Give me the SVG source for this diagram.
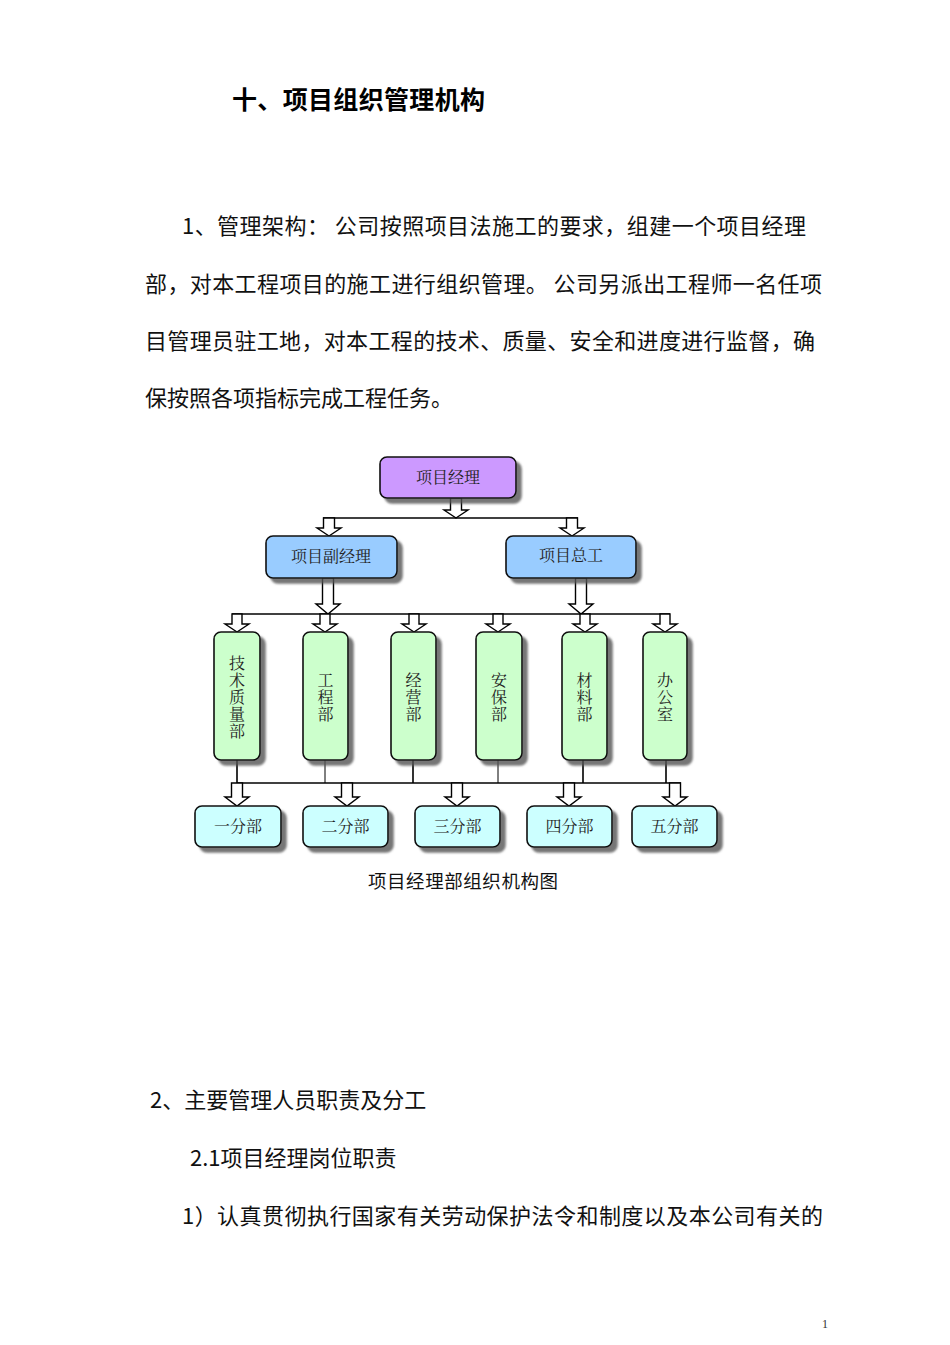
<svg xmlns="http://www.w3.org/2000/svg" width="950" height="1345" viewBox="0 0 950 1345">
<style>
.body{font-family:"Noto Sans CJK SC","Liberation Sans",sans-serif;font-size:22px;fill:#111}
.title{font-family:"Noto Sans CJK SC","Liberation Sans",sans-serif;font-size:25px;font-weight:bold;fill:#000}
.cap{font-family:"Noto Sans CJK SC","Liberation Sans",sans-serif;font-size:18.5px;fill:#111}
.nt{font-family:"Noto Serif CJK SC","Noto Sans CJK SC",serif;font-size:16px;fill:#222;text-anchor:middle}
.vt{font-family:"Noto Serif CJK SC","Noto Sans CJK SC",serif;font-size:16px;fill:#222;text-anchor:middle;writing-mode:vertical-rl;text-orientation:upright;letter-spacing:1px}
.box{stroke:#111;stroke-width:1.6;filter:url(#sh)}
.p{fill:#CC99FF}.b{fill:#99CCFF}.g{fill:#CCFFCC}.c{fill:#CCFFFF}
.ln{stroke:#000;stroke-width:1.6;fill:none}
.thin{stroke:#000;stroke-width:1;fill:none}
.ar{fill:#fff;stroke:#000;stroke-width:1.4;stroke-linejoin:miter}
</style>
<defs>
<filter id="sh" x="-20%" y="-20%" width="160%" height="160%">
<feDropShadow dx="5" dy="5" stdDeviation="1.2" flood-color="#555" flood-opacity="0.8"/>
</filter>
</defs>
<rect width="950" height="1345" fill="#fff"/>
<text class="title" x="232" y="109" textLength="253">十、项目组织管理机构</text>
<text class="body" x="182" y="234" textLength="624">1、管理架构： 公司按照项目法施工的要求，组建一个项目经理</text>
<text class="body" x="145" y="292" textLength="677">部，对本工程项目的施工进行组织管理。 公司另派出工程师一名任项</text>
<text class="body" x="145" y="349" textLength="670">目管理员驻工地，对本工程的技术、质量、安全和进度进行监督，确</text>
<text class="body" x="145" y="406">保按照各项指标完成工程任务。</text>

<g id="connectors">
<path class="ln" d="M323,518 H578"/>
<path class="ln" d="M232,614 H670"/>
<path class="ln" d="M237,783 H681"/>
<path class="ln" d="M237,760 V783 M413,760 V783 M583,760 V783 M666,760 V783"/>
<path class="thin" d="M325,760 V783 M498,760 V783"/>
<path class="ar" d="M450.5,498 H461.5 V510 H468 L456,518 L444,510 H450.5 Z"/>
<path class="ar" d="M323.5,518 H334.5 V528 H341 L329,536 L317,528 H323.5 Z"/>
<path class="ar" d="M566.5,518 H577.5 V528 H584 L572,536 L560,528 H566.5 Z"/>
<path class="ar" d="M322.5,578 H333.5 V604 H340 L328,614 L316,604 H322.5 Z"/>
<path class="ar" d="M575.5,578 H586.5 V604 H593 L581,614 L569,604 H575.5 Z"/>
<path class="ar" d="M232,614 H242 V624 H249 L237,632 L225,624 H232 Z"/>
<path class="ar" d="M320,614 H330 V624 H337 L325,632 L313,624 H320 Z"/>
<path class="ar" d="M409,614 H419 V624 H426 L414,632 L402,624 H409 Z"/>
<path class="ar" d="M493,614 H503 V624 H510 L498,632 L486,624 H493 Z"/>
<path class="ar" d="M580,614 H590 V624 H597 L585,632 L573,624 H580 Z"/>
<path class="ar" d="M660,614 H670 V624 H677 L665,632 L653,624 H660 Z"/>
<path class="ar" d="M231.5,783 H242.5 V797 H249 L237,806 L225,797 H231.5 Z"/>
<path class="ar" d="M341.5,783 H352.5 V797 H359 L347,806 L335,797 H341.5 Z"/>
<path class="ar" d="M451.5,783 H462.5 V797 H469 L457,806 L445,797 H451.5 Z"/>
<path class="ar" d="M563.5,783 H574.5 V797 H581 L569,806 L557,797 H563.5 Z"/>
<path class="ar" d="M669.5,783 H680.5 V797 H687 L675,806 L663,797 H669.5 Z"/>
</g>

<g id="n-pm"><rect class="box p" x="380" y="457" width="136" height="41" rx="7"/><text class="nt" x="448" y="483">项目经理</text></g>
<g id="n-dpm"><rect class="box b" x="266" y="536" width="131" height="42" rx="7"/><text class="nt" x="331" y="562">项目副经理</text></g>
<g id="n-ce"><rect class="box b" x="506" y="536" width="130" height="42" rx="7"/><text class="nt" x="571" y="561">项目总工</text></g>

<g id="n-tech"><rect class="box g" x="214" y="632" width="46" height="128" rx="7"/><text class="vt" x="237" y="697">技术质量部</text></g>
<g id="n-eng"><rect class="box g" x="303" y="632" width="45" height="128" rx="7"/><text class="vt" x="325.5" y="697">工程部</text></g>
<g id="n-biz"><rect class="box g" x="391" y="632" width="45" height="128" rx="7"/><text class="vt" x="413.5" y="697">经营部</text></g>
<g id="n-safe"><rect class="box g" x="476" y="632" width="46" height="128" rx="7"/><text class="vt" x="499" y="697">安保部</text></g>
<g id="n-mat"><rect class="box g" x="562" y="632" width="45" height="128" rx="7"/><text class="vt" x="584.5" y="697">材料部</text></g>
<g id="n-off"><rect class="box g" x="643" y="632" width="44" height="128" rx="7"/><text class="vt" x="665" y="697">办公室</text></g>

<g id="n-s1"><rect class="box c" x="195" y="806" width="86" height="41" rx="7"/><text class="nt" x="238" y="832">一分部</text></g>
<g id="n-s2"><rect class="box c" x="303" y="806" width="85" height="41" rx="7"/><text class="nt" x="345.5" y="832">二分部</text></g>
<g id="n-s3"><rect class="box c" x="415" y="806" width="85" height="41" rx="7"/><text class="nt" x="457.5" y="832">三分部</text></g>
<g id="n-s4"><rect class="box c" x="527" y="806" width="85" height="41" rx="7"/><text class="nt" x="569.5" y="832">四分部</text></g>
<g id="n-s5"><rect class="box c" x="632" y="806" width="85" height="41" rx="7"/><text class="nt" x="674.5" y="832">五分部</text></g>

<text class="cap" x="368" y="888" textLength="190">项目经理部组织机构图</text>
<text class="body" x="150" y="1108">2、主要管理人员职责及分工</text>
<text class="body" x="190" y="1166">2.1项目经理岗位职责</text>
<text class="body" x="182" y="1224" textLength="641">1）认真贯彻执行国家有关劳动保护法令和制度以及本公司有关的</text>
<text x="822" y="1328" style="font-family:'Liberation Serif',serif;font-size:12px;fill:#333">1</text>
</svg>
